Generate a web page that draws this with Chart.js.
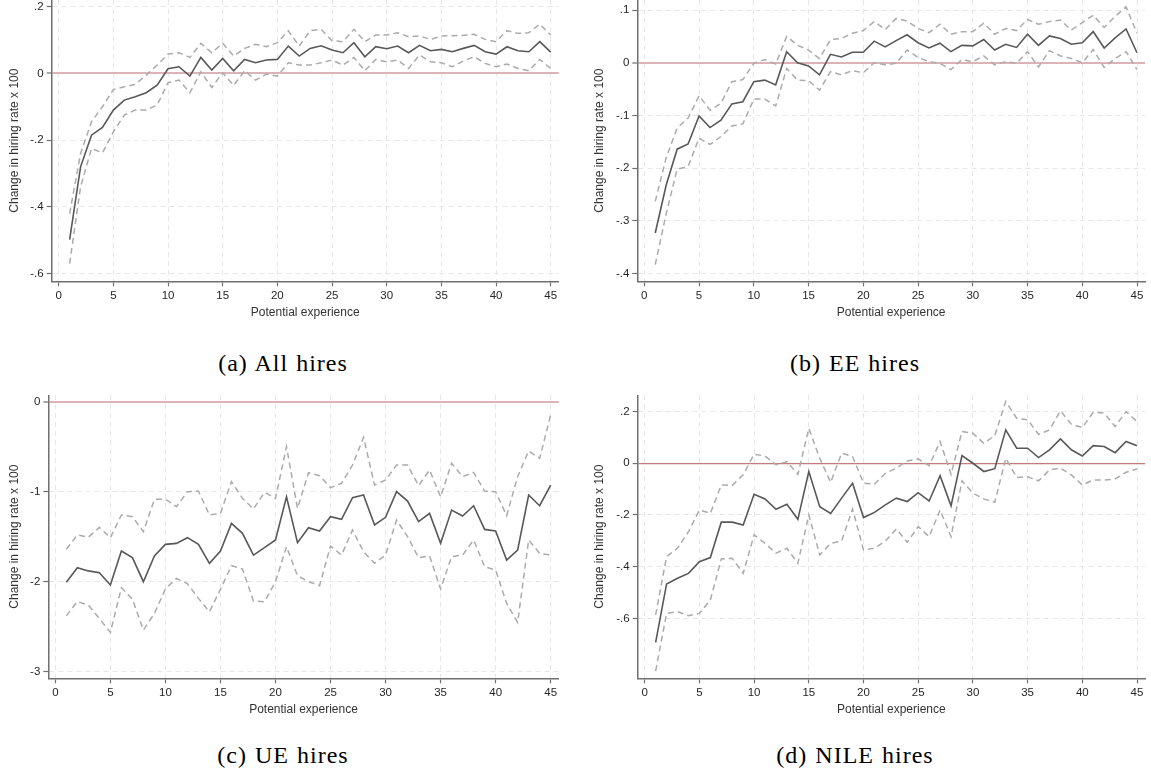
<!DOCTYPE html>
<html>
<head>
<meta charset="utf-8">
<script src="https://cdn.jsdelivr.net/npm/chart.js@4.4.0/dist/chart.umd.min.js"></script>
<style>
  body { margin: 0; background: #fff; width: 1151px; height: 780px; position: relative; overflow: hidden; }
  canvas { position: absolute; }
  .cap { position: absolute; width: 400px; text-align: center; font-family: 'Liberation Serif', serif;
         font-size: 24px; line-height: 1; color: #000; letter-spacing: 1px; word-spacing: 1px; }
</style>
</head>
<body>
<canvas id="chartA" width="575" height="325" style="left:0;top:0"></canvas>
<canvas id="chartB" width="566" height="325" style="left:585px;top:0"></canvas>
<canvas id="chartC" width="575" height="327" style="left:0;top:395px"></canvas>
<canvas id="chartD" width="566" height="327" style="left:585px;top:395px"></canvas>
<div class="cap" style="left:83px;top:351px">(a) All hires</div>
<div class="cap" style="left:655px;top:351px">(b) EE hires</div>
<div class="cap" style="left:83px;top:743px">(c) UE hires</div>
<div class="cap" style="left:655px;top:743px">(d) NILE hires</div>
<script>
// potential experience (years)
var experience = [1,2,3,4,5,6,7,8,9,10,11,12,13,14,15,16,17,18,19,20,21,22,23,24,25,26,27,28,29,30,
                  31,32,33,34,35,36,37,38,39,40,41,42,43,44,45];
var xTicks = [0,5,10,15,20,25,30,35,40,45];

// (a) all hires
var mainA  = [-0.498,-0.28,-0.185,-0.162,-0.11,-0.08,-0.07,-0.058,-0.035,0.014,
              0.02,-0.008,0.048,0.01,0.045,0.008,0.042,0.032,0.04,0.042,
              0.082,0.052,0.075,0.083,0.07,0.062,0.092,0.05,0.08,0.074,
              0.082,0.062,0.084,0.068,0.072,0.065,0.075,0.084,0.065,0.058,
              0.08,0.068,0.065,0.095,0.064];
var upperA = [-0.42,-0.24,-0.145,-0.10,-0.048,-0.04,-0.033,-0.005,0.025,0.058,
              0.062,0.048,0.09,0.062,0.09,0.052,0.075,0.087,0.08,0.092,
              0.128,0.082,0.128,0.132,0.098,0.095,0.132,0.095,0.115,0.115,
              0.122,0.11,0.112,0.102,0.112,0.113,0.114,0.117,0.102,0.095,
              0.128,0.12,0.122,0.148,0.115];
var lowerA = [-0.57,-0.34,-0.225,-0.238,-0.175,-0.125,-0.11,-0.11,-0.095,-0.028,
              -0.02,-0.058,0.005,-0.042,0.002,-0.036,0.008,-0.02,-0.002,-0.008,
              0.032,0.025,0.025,0.032,0.04,0.025,0.048,0.008,0.042,0.035,
              0.04,0.015,0.055,0.035,0.032,0.02,0.037,0.05,0.03,0.02,
              0.028,0.015,0.008,0.042,0.015];
var yTicksA = [-0.6,-0.4,-0.2,0,0.2];
var yLabelsA = ['-.6','-.4','-.2','0','.2'];

// (b) EE hires
var mainB  = [-0.323,-0.232,-0.164,-0.154,-0.101,-0.123,-0.109,-0.078,-0.074,-0.036,
              -0.033,-0.042,0.021,0.0,-0.006,-0.023,0.016,0.011,0.02,0.02,
              0.041,0.03,0.042,0.053,0.038,0.028,0.037,0.021,0.033,0.032,
              0.044,0.024,0.035,0.029,0.054,0.033,0.051,0.046,0.035,0.038,
              0.059,0.028,0.047,0.064,0.019];
var upperB = [-0.263,-0.18,-0.124,-0.105,-0.0625,-0.09,-0.077,-0.036,-0.032,-0.001,
              0.006,-0.0025,0.05,0.033,0.024,0.008,0.044,0.046,0.056,0.061,
              0.078,0.063,0.084,0.079,0.065,0.057,0.073,0.054,0.059,0.059,
              0.075,0.054,0.065,0.061,0.082,0.073,0.078,0.081,0.062,0.076,
              0.09,0.067,0.088,0.106,0.056];
var lowerB = [-0.383,-0.286,-0.202,-0.197,-0.143,-0.155,-0.14,-0.12,-0.116,-0.069,
              -0.069,-0.082,-0.011,-0.033,-0.034,-0.052,-0.017,-0.023,-0.015,-0.019,
              0.0,-0.004,-0.001,0.024,0.01,0.002,-0.001,-0.013,0.006,0.002,
              0.013,-0.004,0.002,-0.001,0.021,-0.008,0.023,0.013,0.008,0.0,
              0.025,-0.009,0.008,0.021,-0.013];
var yTicksB = [-0.4,-0.3,-0.2,-0.1,0,0.1];
var yLabelsB = ['-.4','-.3','-.2','-.1','0','.1'];

// (c) UE hires
var mainC  = [-2.007,-1.844,-1.88,-1.9,-2.037,-1.659,-1.733,-2.0,-1.715,-1.585,
              -1.574,-1.511,-1.585,-1.796,-1.659,-1.352,-1.463,-1.704,-1.622,-1.537,
              -1.056,-1.567,-1.4,-1.437,-1.278,-1.307,-1.067,-1.037,-1.37,-1.285,
              -1.0,-1.104,-1.333,-1.241,-1.574,-1.204,-1.27,-1.156,-1.419,-1.437,
              -1.759,-1.648,-1.037,-1.156,-0.926];
var upperC = [-1.64,-1.48,-1.507,-1.396,-1.511,-1.259,-1.278,-1.444,-1.085,-1.085,
              -1.167,-1.0,-0.993,-1.259,-1.24,-0.889,-1.074,-1.193,-1.007,-1.074,
              -0.5,-1.185,-0.789,-0.822,-0.956,-0.907,-0.704,-0.396,-0.926,-0.87,
              -0.704,-0.704,-0.933,-0.759,-1.056,-0.685,-0.833,-0.785,-0.993,-1.0,
              -1.267,-0.833,-0.548,-0.63,-0.148];
var lowerC = [-2.38,-2.22,-2.26,-2.41,-2.563,-2.067,-2.193,-2.537,-2.352,-2.081,
              -1.963,-2.022,-2.185,-2.333,-2.085,-1.822,-1.859,-2.215,-2.222,-2.0,
              -1.611,-1.933,-2.0,-2.044,-1.604,-1.704,-1.426,-1.667,-1.796,-1.704,
              -1.315,-1.5,-1.733,-1.715,-2.081,-1.722,-1.704,-1.537,-1.833,-1.87,
              -2.241,-2.452,-1.537,-1.685,-1.704];
var yTicksC = [-3,-2,-1,0];
var yLabelsC = ['-3','-2','-1','0'];

// (d) NILE hires
var mainD  = [-0.693,-0.467,-0.445,-0.426,-0.381,-0.365,-0.228,-0.228,-0.239,-0.12,
              -0.138,-0.178,-0.159,-0.217,-0.032,-0.168,-0.194,-0.135,-0.077,-0.21,
              -0.19,-0.161,-0.135,-0.148,-0.114,-0.146,-0.048,-0.165,0.03,0.0,
              -0.032,-0.021,0.129,0.058,0.058,0.022,0.052,0.094,0.052,0.028,
              0.068,0.065,0.041,0.084,0.068];
var upperD = [-0.587,-0.361,-0.329,-0.265,-0.181,-0.194,-0.084,-0.086,-0.045,0.035,
              0.028,-0.006,0.006,-0.043,0.135,0.019,-0.074,0.039,0.026,-0.077,
              -0.081,-0.039,-0.019,0.009,0.017,-0.009,0.084,-0.043,0.123,0.116,
              0.077,0.107,0.239,0.174,0.168,0.112,0.129,0.203,0.151,0.138,
              0.197,0.194,0.142,0.2,0.161];
var lowerD = [-0.804,-0.581,-0.574,-0.59,-0.581,-0.529,-0.37,-0.368,-0.426,-0.277,
              -0.31,-0.348,-0.329,-0.387,-0.2,-0.355,-0.31,-0.301,-0.177,-0.335,
              -0.329,-0.301,-0.254,-0.306,-0.245,-0.284,-0.181,-0.284,-0.068,-0.116,
              -0.138,-0.151,0.019,-0.055,-0.052,-0.068,-0.026,-0.019,-0.045,-0.084,
              -0.065,-0.065,-0.061,-0.035,-0.022];
var yTicksD = [-0.6,-0.4,-0.2,0,0.2];
var yLabelsD = ['-.6','-.4','-.2','0','.2'];

var xTitle = 'Potential experience';
var yTitle = 'Change in hiring rate x 100';

var axisFont = 'Liberation Sans';
var gridColor = '#e7e7e7';
var axisColor = '#6f6f6f';

function pts(arr) {
  return arr.map(function (v, i) { return {x: experience[i], y: v}; });
}

function buildChart(id, main, upper, lower, yTicks, yLabels, yMin, yMax, box) {
  var isZero = function (c) { return c.tick && c.tick.value === 0; };
  return new Chart(document.getElementById(id), {
    type: 'line',
    data: {
      datasets: [
        {data: pts(upper), borderColor: '#ababab', borderWidth: 1.5, borderDash: [6, 4], pointRadius: 0, tension: 0},
        {data: pts(lower), borderColor: '#ababab', borderWidth: 1.5, borderDash: [6, 4], pointRadius: 0, tension: 0},
        {data: pts(main), borderColor: '#585858', borderWidth: 1.6, pointRadius: 0, tension: 0}
      ]
    },
    options: {
      responsive: false,
      animation: false,
      events: [],
      layout: {padding: {top: 0, right: box.right, left: 0, bottom: 0}},
      plugins: {legend: {display: false}, tooltip: {enabled: false}},
      scales: {
        x: {
          type: 'linear', min: -0.64, max: 45.73,
          afterBuildTicks: function (s) { s.ticks = xTicks.map(function (v) { return {value: v}; }); },
          afterFit: function (s) { s.height = 43.7; s.paddingLeft = 0; s.paddingRight = 0; },
          ticks: {font: {family: axisFont, size: 11.5}, color: '#262626', padding: 3, maxRotation: 0, autoSkip: false},
          grid: {color: gridColor, lineWidth: 1, tickLength: 5, tickColor: axisColor, tickWidth: 1.2, tickBorderDash: []},
          border: {display: true, color: axisColor, width: 1.5, dash: [5, 4]},
          title: {display: true, text: xTitle, color: '#333', font: {family: axisFont, size: 12}, padding: {top: 0, bottom: 5.5}}
        },
        y: {
          type: 'linear', min: yMin, max: yMax,
          afterBuildTicks: function (s) { s.ticks = yTicks.map(function (v) { return {value: v}; }); },
          afterFit: function (s) { s.width = box.yw; s.paddingTop = 0; s.paddingBottom = 0; },
          ticks: {
            font: {family: axisFont, size: 11.5}, color: '#262626', padding: 3, autoSkip: false,
            callback: function (v, i) { return yLabels[i]; }
          },
          grid: {
            color: function (c) { return isZero(c) ? box.zeroColor : gridColor; },
            lineWidth: function (c) { return isZero(c) ? box.zeroWidth : 1; },
            tickLength: 5, tickColor: axisColor, tickWidth: 1.2, tickBorderDash: []
          },
          border: {
            display: true, color: axisColor, width: 1.5,
            dash: function (c) { return isZero(c) ? [] : [5, 4]; }
          },
          title: {display: true, text: yTitle, color: '#333', font: {family: axisFont, size: 12}, padding: {top: 7.8, bottom: 0}}
        }
      }
    }
  });
}

buildChart('chartA', mainA, upperA, lowerA, yTicksA, yLabelsA, -0.623, 0.22,
           {right: 16.3, yw: 51.7, zeroColor: '#dcb3b7', zeroWidth: 2});
buildChart('chartB', mainB, upperB, lowerB, yTicksB, yLabelsB, -0.4146, 0.119,
           {right: 6, yw: 52.3, zeroColor: '#dcb3b7', zeroWidth: 2});
buildChart('chartC', mainC, upperC, lowerC, yTicksC, yLabelsC, -3.073, 0.074,
           {right: 16.3, yw: 48.3, zeroColor: '#dcb3b7', zeroWidth: 2});
buildChart('chartD', mainD, upperD, lowerD, yTicksD, yLabelsD, -0.832, 0.264,
           {right: 6, yw: 52.7, zeroColor: '#c47b7b', zeroWidth: 1.2});
</script>
</body>
</html>
